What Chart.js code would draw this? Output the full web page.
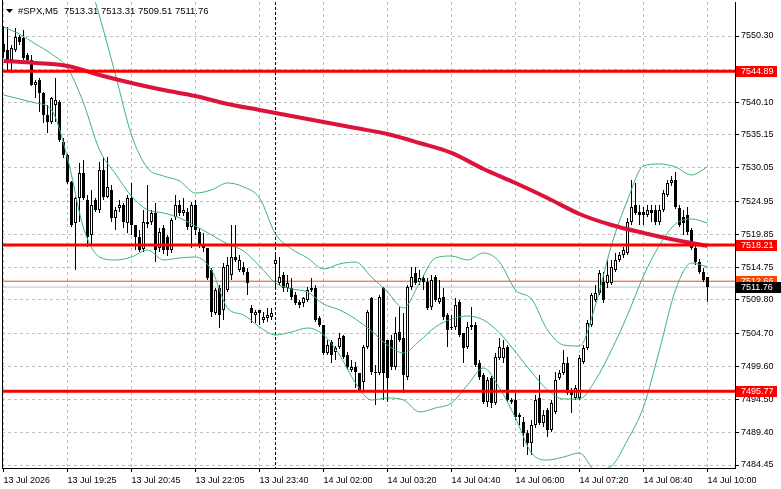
<!DOCTYPE html>
<html>
<head>
<meta charset="utf-8">
<script src="https://cdn.jsdelivr.net/npm/chart.js@4.4.0/dist/chart.umd.min.js"></script>
<style>
  html, body { margin: 0; padding: 0; background: #fff; }
  #wrap { width: 781px; height: 489px; }
</style>
</head>
<body>
<div id="wrap"><canvas id="chart" width="781" height="489"></canvas></div>
<script>
// #SPX M5 candles, one entry per bar (oldest first)
const symbolName = "#SPX,M5";

const opens = [
  7549.07, 7548.16, 7546.62, 7548.16, 7550.15, 7549.99, 7547.39, 7546.62, 7542.78, 7543.55,
  7541.55, 7538.18, 7537.10, 7539.71, 7540.17, 7534.03, 7532.04, 7527.89, 7521.60, 7525.44,
  7529.27, 7525.13, 7519.76, 7525.13, 7523.60, 7529.74, 7525.59, 7526.67, 7522.37, 7523.90,
  7524.36, 7521.60, 7525.44, 7521.29, 7519.45, 7517.61, 7521.75, 7521.75, 7523.14, 7517.76,
  7520.83, 7519.45, 7517.46, 7522.52, 7524.36, 7523.14, 7523.29, 7520.99, 7524.36, 7520.22,
  7518.22, 7517.76, 7514.39, 7507.78, 7511.62, 7508.25, 7511.32, 7513.62, 7516.38, 7514.39,
  7514.85, 7514.08, 7508.55, 7507.48, 7508.25, 7506.71, 7507.02, 7507.17, 7515.31, 7512.39,
  7513.62, 7511.62, 7511.62, 7510.55, 7509.47, 7509.32, 7509.78, 7511.32, 7511.62, 7507.02,
  7505.94, 7501.65, 7503.33, 7501.80, 7502.57, 7504.26, 7501.34, 7499.04, 7499.50, 7498.58,
  7497.19, 7502.57, 7510.09, 7498.73, 7498.58, 7511.62, 7503.64, 7503.64, 7499.50, 7504.87,
  7503.95, 7497.96, 7511.78, 7513.93, 7512.54, 7513.16, 7512.54, 7508.71, 7513.31, 7509.47,
  7510.24, 7507.48, 7505.64, 7505.64, 7509.47, 7504.72, 7502.57, 7505.94, 7505.94, 7500.11,
  7498.27, 7494.12, 7497.81, 7493.97, 7500.88, 7500.88, 7502.57, 7494.43, 7494.43, 7492.13,
  7491.05, 7489.37, 7487.83, 7490.59, 7494.74, 7490.90, 7492.90, 7489.83, 7492.59, 7497.81,
  7498.58, 7500.11, 7495.97, 7494.74, 7494.74, 7500.26, 7502.41, 7505.94, 7509.78, 7510.86,
  7512.54, 7512.39, 7512.39, 7514.39, 7515.92, 7516.69, 7517.00, 7521.75, 7524.36, 7523.29,
  7523.29, 7522.83, 7523.60, 7523.60, 7521.75, 7523.60, 7525.90, 7527.74, 7528.20, 7523.90,
  7522.52, 7522.83, 7520.53, 7517.76, 7515.61, 7514.08, 7513.31
];
const highs = [
  7551.84, 7551.69, 7548.92, 7551.53, 7550.46, 7551.23, 7547.70, 7547.39, 7543.55, 7543.86,
  7541.71, 7539.71, 7540.94, 7543.86, 7540.48, 7534.65, 7532.19, 7528.05, 7525.59, 7530.81,
  7531.27, 7525.90, 7526.67, 7525.44, 7530.96, 7531.73, 7531.73, 7527.43, 7524.06, 7525.13,
  7524.67, 7525.90, 7527.74, 7521.29, 7520.53, 7523.60, 7527.43, 7523.60, 7524.67, 7520.83,
  7521.29, 7519.76, 7522.37, 7525.90, 7525.13, 7525.44, 7523.90, 7524.82, 7525.13, 7520.83,
  7520.07, 7517.76, 7514.69, 7511.62, 7512.08, 7515.46, 7516.38, 7521.29, 7521.29, 7516.69,
  7515.61, 7514.69, 7509.01, 7508.25, 7508.25, 7507.94, 7508.55, 7508.55, 7517.00, 7516.38,
  7514.08, 7513.62, 7513.16, 7511.01, 7509.78, 7510.24, 7511.78, 7513.16, 7512.08, 7507.32,
  7505.94, 7503.64, 7503.64, 7502.72, 7504.72, 7504.41, 7501.80, 7500.57, 7500.26, 7498.58,
  7502.87, 7508.25, 7510.24, 7499.80, 7510.55, 7511.78, 7503.64, 7504.41, 7507.17, 7508.71,
  7507.78, 7512.08, 7514.85, 7514.85, 7514.39, 7513.62, 7513.16, 7513.62, 7513.62, 7512.85,
  7511.62, 7507.78, 7507.48, 7510.09, 7509.78, 7504.72, 7506.40, 7508.71, 7506.40, 7500.57,
  7498.58, 7497.96, 7498.12, 7501.65, 7503.95, 7503.64, 7502.87, 7494.74, 7495.51, 7492.44,
  7491.82, 7489.83, 7491.36, 7495.20, 7498.27, 7492.90, 7493.20, 7494.43, 7498.73, 7499.04,
  7502.11, 7501.03, 7496.27, 7496.73, 7501.34, 7502.87, 7506.71, 7510.86, 7512.08, 7514.39,
  7514.08, 7515.92, 7515.92, 7517.00, 7517.15, 7517.92, 7522.37, 7528.20, 7527.74, 7524.36,
  7524.06, 7524.36, 7524.36, 7524.36, 7524.36, 7526.67, 7528.20, 7528.81, 7529.43, 7524.36,
  7523.60, 7524.06, 7520.83, 7518.07, 7516.07, 7514.69, 7513.31
];
const lows = [
  7546.93, 7544.77, 7544.62, 7547.85, 7548.92, 7546.62, 7546.31, 7542.63, 7540.79, 7538.64,
  7536.95, 7535.41, 7536.80, 7537.10, 7534.03, 7531.58, 7527.59, 7520.99, 7514.39, 7521.75,
  7525.13, 7517.91, 7518.22, 7523.29, 7523.14, 7525.13, 7525.44, 7521.75, 7520.53, 7523.29,
  7520.83, 7520.07, 7519.76, 7517.46, 7517.15, 7517.15, 7520.83, 7521.29, 7515.61, 7517.15,
  7516.84, 7516.53, 7517.00, 7522.06, 7522.67, 7522.67, 7520.53, 7517.76, 7519.76, 7517.76,
  7517.15, 7512.85, 7507.17, 7507.48, 7505.48, 7506.71, 7511.01, 7512.85, 7515.61, 7514.08,
  7513.62, 7510.55, 7506.25, 7506.25, 7505.94, 7506.25, 7506.40, 7506.71, 7511.32, 7512.08,
  7511.01, 7511.01, 7509.78, 7509.01, 7508.55, 7508.71, 7509.47, 7511.01, 7506.40, 7505.64,
  7501.34, 7501.34, 7500.11, 7500.57, 7502.26, 7500.72, 7499.04, 7498.73, 7496.27, 7495.66,
  7495.66, 7502.26, 7498.27, 7493.66, 7498.27, 7494.43, 7494.12, 7499.04, 7499.04, 7503.33,
  7495.51, 7497.50, 7511.32, 7512.08, 7512.08, 7511.32, 7508.25, 7508.25, 7509.47, 7509.17,
  7506.71, 7502.57, 7505.18, 7505.18, 7504.10, 7500.11, 7502.26, 7505.18, 7499.50, 7497.50,
  7493.82, 7493.36, 7493.20, 7493.66, 7500.57, 7500.11, 7494.12, 7493.82, 7491.36, 7490.59,
  7487.22, 7485.99, 7485.99, 7490.13, 7490.59, 7490.29, 7488.75, 7489.52, 7492.28, 7497.50,
  7498.27, 7495.20, 7492.44, 7494.43, 7494.43, 7499.96, 7502.11, 7505.64, 7509.47, 7510.55,
  7509.32, 7511.62, 7512.08, 7514.08, 7515.61, 7516.23, 7516.69, 7521.29, 7522.83, 7521.29,
  7521.29, 7522.52, 7521.75, 7521.29, 7521.29, 7523.29, 7525.59, 7527.28, 7523.75, 7520.99,
  7519.76, 7519.76, 7517.46, 7515.15, 7513.77, 7512.54, 7509.51
];
const closes = [
  7547.85, 7546.31, 7548.47, 7550.15, 7549.38, 7546.93, 7546.62, 7542.78, 7543.24, 7541.55,
  7538.18, 7537.10, 7540.79, 7540.48, 7534.34, 7532.04, 7527.89, 7521.29, 7525.44, 7529.27,
  7525.44, 7519.45, 7524.36, 7523.60, 7529.74, 7525.59, 7527.13, 7522.37, 7523.60, 7524.36,
  7521.75, 7525.44, 7521.29, 7519.45, 7517.46, 7521.75, 7521.45, 7523.14, 7517.46, 7520.22,
  7517.46, 7517.46, 7522.06, 7524.36, 7523.14, 7523.60, 7520.99, 7524.36, 7520.53, 7518.22,
  7517.76, 7513.16, 7507.94, 7511.32, 7507.48, 7514.85, 7515.15, 7516.38, 7515.92, 7515.92,
  7514.08, 7512.39, 7507.78, 7507.94, 7507.78, 7507.17, 7507.48, 7507.78, 7515.92, 7513.31,
  7511.62, 7512.39, 7510.24, 7509.32, 7509.01, 7510.09, 7511.32, 7511.62, 7506.71, 7505.94,
  7501.65, 7502.87, 7501.34, 7502.41, 7503.95, 7501.03, 7499.50, 7499.50, 7498.73, 7495.97,
  7502.57, 7507.94, 7498.73, 7498.58, 7510.24, 7498.58, 7497.81, 7499.50, 7504.72, 7503.64,
  7498.27, 7511.78, 7513.31, 7512.39, 7513.16, 7512.54, 7508.55, 7512.85, 7509.78, 7510.09,
  7507.17, 7505.18, 7505.48, 7509.01, 7504.41, 7502.41, 7505.64, 7505.64, 7499.80, 7497.96,
  7494.12, 7497.50, 7493.97, 7501.03, 7502.57, 7502.41, 7494.43, 7494.12, 7491.82, 7491.82,
  7489.37, 7487.83, 7490.59, 7494.43, 7490.90, 7492.13, 7489.83, 7493.97, 7497.50, 7498.58,
  7500.11, 7495.51, 7495.20, 7496.27, 7500.88, 7502.41, 7506.25, 7510.55, 7510.86, 7513.93,
  7509.78, 7513.62, 7514.85, 7515.92, 7516.69, 7517.46, 7521.75, 7524.06, 7523.14, 7522.83,
  7522.83, 7523.60, 7523.14, 7521.75, 7523.60, 7526.21, 7527.74, 7528.20, 7524.06, 7521.29,
  7521.60, 7520.22, 7517.76, 7515.61, 7514.08, 7512.85, 7511.76
];

// time axis
const timeTicks = [0, 16, 32, 48, 64, 80, 96, 112, 128, 144, 160, 176];
const timeLabels = ["13 Jul 2026", "13 Jul 19:25", "13 Jul 20:45", "13 Jul 22:05", "13 Jul 23:40", "14 Jul 02:00",
  "14 Jul 03:20", "14 Jul 04:40", "14 Jul 06:00", "14 Jul 07:20", "14 Jul 08:40", "14 Jul 10:00"];
const separatorBar = 68; // 14 Jul 00:00

// price axis
const priceTicks = [7550.30, 7545.20, 7540.10, 7535.15, 7530.05, 7524.95, 7519.85,
  7514.75, 7509.80, 7504.70, 7499.60, 7494.50, 7489.40, 7484.45];
const priceMin = 7483.99;
const priceMax = 7555.52;

// bollinger bands, read every 4th bar
const bandBars = [0, 4, 8, 12, 16, 20, 24, 28, 32, 36, 40, 44, 48, 52, 56, 60, 64, 68, 72, 76, 80, 84, 88,
  92, 96, 100, 104, 108, 112, 116, 120, 124, 128, 132, 136, 140, 144, 148, 152, 156, 160, 164, 168, 172, 176];
const bbUpper = [
  null, null, null, null, 7567.34, 7561.20, 7553.37, 7544.32, 7535.11, 7530.04,
  7528.81, 7528.05, 7526.20, 7526.67, 7527.74, 7527.13, 7525.44, 7519.91, 7517.61, 7516.23,
  7514.54, 7515.31, 7515.61, 7513.31, 7511.01, 7508.55, 7512.39, 7516.23, 7516.53, 7515.92,
  7517.00, 7515.61, 7511.32, 7509.93, 7505.18, 7502.87, 7502.72, 7509.01, 7518.22, 7525.13,
  7530.35, 7530.66, 7530.20, 7528.97, 7530.20
];
const bbMiddle = [
  7551.69, 7550.61, 7549.07, 7547.54, 7545.39, 7540.02, 7532.81, 7529.12, 7525.74, 7523.60,
  7523.14, 7522.37, 7521.14, 7519.76, 7518.38, 7517.30, 7515.00, 7512.39, 7511.47, 7511.01,
  7509.17, 7508.25, 7506.86, 7505.02, 7502.87, 7501.65, 7503.49, 7505.64, 7506.86, 7507.32,
  7506.71, 7504.72, 7501.80, 7498.73, 7495.97, 7494.59, 7494.59, 7497.50, 7502.11, 7507.48,
  7513.47, 7518.22, 7521.45, 7522.21, 7521.60
];
const bbLower = [
  7541.25, 7540.63, 7540.02, 7538.95, 7531.58, 7520.83, 7516.38, 7515.92, 7516.38, 7517.46,
  7515.92, 7516.23, 7516.38, 7514.39, 7508.55, 7507.48, 7505.64, 7504.41, 7504.87, 7505.48,
  7504.41, 7501.34, 7497.04, 7494.43, 7494.74, 7494.43, 7492.59, 7493.20, 7493.97, 7496.73,
  7499.34, 7496.27, 7491.67, 7486.30, 7485.22, 7485.68, 7486.30, 7483.69, 7484.30, 7488.29,
  7493.36, 7502.11, 7511.32, 7515.46, 7514.85
];

// slow moving average, read every 8th bar
const maBars = [0, 8, 16, 24, 32, 40, 48, 56, 64, 72, 80, 88, 96, 104, 112, 120, 128, 136, 144, 152, 160, 168, 176];
const maValues = [
  7546.47, 7546.16, 7545.70, 7544.32, 7543.09, 7542.01, 7541.09, 7539.87, 7538.95, 7538.03,
  7537.10, 7536.18, 7535.26, 7533.88, 7532.35, 7529.89, 7527.74, 7525.44, 7522.98, 7521.29,
  7520.07, 7518.99, 7518.07
];

// horizontal levels and quotes
const levels = [7544.89, 7518.21, 7495.77];
const askPrice = 7512.66;
const bidPrice = 7511.76;

const FONT = "'Liberation Sans', Arial, sans-serif";
const xMin = -0.375, xMax = 182.875;

const pts = (xs, ys) => xs.map((x, i) => ({ x: x, y: ys[i] }));
const hline = v => [{ x: xMin, y: v }, { x: xMax, y: v }];

const overlay = {
  id: 'overlay',
  beforeDatasetsDraw(chart) {
    const { ctx, chartArea: a, scales: { x } } = chart;
    const sx = Math.floor(x.getPixelForValue(separatorBar)) + 0.5;
    ctx.save();
    ctx.strokeStyle = '#000';
    ctx.lineWidth = 1;
    ctx.setLineDash([3, 2]);
    ctx.beginPath();
    ctx.moveTo(sx, a.top);
    ctx.lineTo(sx, a.bottom);
    ctx.stroke();
    ctx.restore();
  },
  afterDraw(chart) {
    const { ctx, chartArea: a, scales: { y } } = chart;
    ctx.save();
    // left frame
    ctx.strokeStyle = '#000';
    ctx.lineWidth = 1;
    ctx.beginPath();
    ctx.moveTo(a.left + 0.5, 0);
    ctx.lineTo(a.left + 0.5, a.bottom);
    ctx.stroke();

    // title
    ctx.fillStyle = '#000';
    ctx.beginPath();
    ctx.moveTo(6, 9);
    ctx.lineTo(13, 9);
    ctx.lineTo(9.5, 13);
    ctx.closePath();
    ctx.fill();
    ctx.font = '9.5px ' + FONT;
    ctx.textBaseline = 'middle';
    ctx.textAlign = 'left';
    const last = opens.length - 1;
    ctx.fillText(symbolName, 18, 11);
    ctx.fillText([opens[last], highs[last], lows[last], closes[last]].map(v => v.toFixed(2)).join(' '), 64, 11);

    // price tags on the axis
    ctx.font = '9px ' + FONT;
    const tag = (value, bg, right) => {
      const cy = Math.round(y.getPixelForValue(value));
      ctx.fillStyle = bg;
      ctx.fillRect(a.right + 1, cy - 5, right - a.right - 1, 11);
      ctx.fillStyle = '#fff';
      ctx.fillText(value.toFixed(2), a.right + 6, cy + 0.5);
    };
    levels.forEach(v => tag(v, '#ff0000', 777));
    tag(askPrice, '#ff4500', 777);
    tag(bidPrice, '#000000', 781);
    ctx.restore();
  }
};

const ctx = document.getElementById('chart').getContext('2d');
new Chart(ctx, {
  type: 'bar',
  data: {
    datasets: [
      {
        label: 'wicks',
        data: lows.map((l, i) => ({ x: i, y: [l, highs[i]] })),
        backgroundColor: '#000',
        borderWidth: 0,
        barThickness: 1,
        grouped: false,
        inflateAmount: 0,
        order: 10
      },
      {
        label: 'bodies',
        data: opens.map((o, i) => ({ x: i, y: [o, closes[i]] })),
        backgroundColor: closes.map((c, i) => c >= opens[i] ? '#ffffff' : '#000000'),
        borderColor: '#000',
        borderWidth: 1,
        borderSkipped: false,
        barThickness: 3,
        minBarLength: 1,
        grouped: false,
        inflateAmount: 0,
        order: 9
      },
      {
        type: 'line', label: 'BB upper', data: pts(bandBars, bbUpper),
        borderColor: '#3cb371', borderWidth: 1, pointRadius: 0, cubicInterpolationMode: 'monotone', order: 6
      },
      {
        type: 'line', label: 'BB middle', data: pts(bandBars, bbMiddle),
        borderColor: '#3cb371', borderWidth: 1, pointRadius: 0, cubicInterpolationMode: 'monotone', order: 6
      },
      {
        type: 'line', label: 'BB lower', data: pts(bandBars, bbLower),
        borderColor: '#3cb371', borderWidth: 1, pointRadius: 0, cubicInterpolationMode: 'monotone', order: 6
      },
      {
        type: 'line', label: 'MA', data: pts(maBars, maValues),
        borderColor: '#dc143c', borderWidth: 4, pointRadius: 0, cubicInterpolationMode: 'monotone', order: 5
      },
      ...levels.map(v => ({
        type: 'line', label: 'level ' + v, data: hline(v),
        borderColor: '#ff0000', borderWidth: 3, pointRadius: 0, clip: 0, order: 4
      })),
      {
        type: 'line', label: 'ask', data: hline(askPrice),
        borderColor: '#ff4500', borderWidth: 1, pointRadius: 0, clip: 0, order: 11
      },
      {
        type: 'line', label: 'bid', data: hline(bidPrice),
        borderColor: '#c0c0c0', borderWidth: 1, pointRadius: 0, clip: 0, order: 11
      }
    ]
  },
  options: {
    responsive: false,
    animation: false,
    devicePixelRatio: 1,
    layout: { padding: { left: 2, top: 2, right: 0, bottom: 0 } },
    plugins: { legend: { display: false }, tooltip: { enabled: false } },
    scales: {
      x: {
        type: 'linear',
        min: xMin,
        max: xMax,
        offset: false,
        afterBuildTicks: s => { s.ticks = timeTicks.map(v => ({ value: v })); },
        afterFit: s => { s.height = 21; s.paddingLeft = 0; s.paddingRight = 0; },
        ticks: {
          autoSkip: false, maxRotation: 0, align: 'start', padding: 3, color: '#000',
          font: { family: FONT, size: 9 },
          callback: (v, i) => timeLabels[i]
        },
        grid: { offset: false, color: '#c0c0c0', tickColor: '#000', tickLength: 4 },
        border: { color: '#000', dash: [3, 3] }
      },
      y: {
        position: 'right',
        min: priceMin,
        max: priceMax,
        beginAtZero: false,
        afterBuildTicks: s => { s.ticks = priceTicks.map(v => ({ value: v })); },
        afterFit: s => { s.width = 46; s.paddingTop = 0; s.paddingBottom = 0; },
        ticks: {
          padding: 2, color: '#000',
          font: { family: FONT, size: 9 },
          callback: v => v.toFixed(2)
        },
        grid: { color: '#c0c0c0', tickColor: '#000', tickLength: 4 },
        border: { color: '#000', dash: [3, 3] }
      }
    }
  },
  plugins: [overlay]
});
</script>
</body>
</html>
